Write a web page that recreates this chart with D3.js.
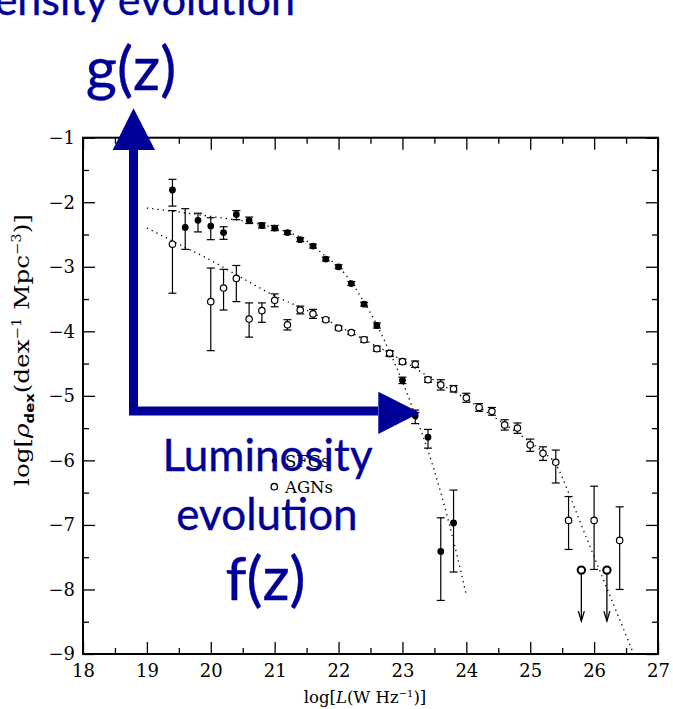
<!DOCTYPE html>
<html>
<head>
<meta charset="utf-8">
<script src="https://cdn.jsdelivr.net/npm/d3@7"></script>
<style>
body { margin: 0; background: #fff; }
svg { display: block; }
</style>
</head>
<body>
<script>
// SFGs (filled points)
var sfgX = [19.4,19.6,19.8,20.0,20.2,20.4,20.6,20.8,21.0,21.2,21.4,21.6,21.8,22.0,22.2,22.4,22.6,22.8,23.0,23.2,23.4,23.6,23.8];
var sfgY = [-1.81,-2.39,-2.28,-2.37,-2.47,-2.19,-2.28,-2.36,-2.40,-2.47,-2.58,-2.68,-2.88,-3.00,-3.26,-3.58,-3.91,-4.35,-4.76,-5.31,-5.64,-7.41,-6.97];
var sfgHi = [-1.645,-2.10,-2.17,-2.24,-2.38,-2.13,-2.23,-2.32,-2.36,-2.44,-2.55,-2.65,-2.85,-2.97,-3.23,-3.55,-3.87,-4.31,-4.71,-5.22,-5.52,-6.89,-6.46];
var sfgLo = [-2.06,-2.73,-2.46,-2.58,-2.575,-2.27,-2.33,-2.40,-2.44,-2.50,-2.61,-2.71,-2.91,-3.03,-3.29,-3.61,-3.95,-4.39,-4.81,-5.43,-5.81,-8.17,-7.73];

// AGNs (open points)
var agnX = [19.4,20.0,20.2,20.4,20.6,20.8,21.0,21.2,21.4,21.6,21.8,22.0,22.2,22.4,22.6,22.8,23.0,23.2,23.4,23.6,23.8,24.0,24.2,24.4,24.6,24.8,25.0,25.2,25.4,25.6,26.0,26.4];
var agnY = [-2.65,-3.54,-3.33,-3.18,-3.81,-3.68,-3.52,-3.90,-3.67,-3.73,-3.82,-3.95,-4.02,-4.13,-4.27,-4.34,-4.47,-4.51,-4.75,-4.83,-4.89,-5.03,-5.18,-5.24,-5.45,-5.50,-5.76,-5.89,-6.03,-6.93,-6.93,-7.24];
var agnHi = [-2.13,-3.02,-3.04,-2.98,-3.56,-3.56,-3.42,-3.82,-3.61,-3.66,-3.79,-3.92,-3.99,-4.09,-4.23,-4.30,-4.43,-4.46,-4.71,-4.75,-4.84,-4.96,-5.12,-5.18,-5.37,-5.42,-5.67,-5.79,-5.84,-6.56,-6.40,-6.72];
var agnLo = [-3.41,-4.30,-3.67,-3.54,-4.09,-3.86,-3.62,-3.98,-3.73,-3.80,-3.85,-3.98,-4.05,-4.17,-4.31,-4.38,-4.51,-4.56,-4.79,-4.91,-4.94,-5.10,-5.24,-5.30,-5.53,-5.58,-5.86,-6.00,-6.35,-7.38,-7.69,-8.00];

// AGN upper limits
var ulX = [25.8, 26.2];
var ulY = [-7.70, -7.70];
var ulEnd = [-8.49, -8.49];

// dotted fits
var sfgFitX = [19.0,19.5,20.0,20.5,21.0,21.5,21.8,22.0,22.2,22.4,22.6,22.8,23.0,23.2,23.4,23.6,23.8,24.0];
var sfgFitY = [-2.09,-2.15,-2.22,-2.29,-2.40,-2.60,-2.84,-3.00,-3.24,-3.55,-3.90,-4.32,-4.78,-5.30,-5.85,-6.50,-7.25,-8.09];
var agnFitX = [19.0,19.5,20.0,20.5,21.0,21.5,22.0,22.5,23.0,23.5,24.0,24.5,25.0,25.2,25.4,25.6,25.8,26.2,26.62];
var agnFitY = [-2.40,-2.65,-2.90,-3.18,-3.45,-3.67,-3.92,-4.18,-4.45,-4.76,-5.05,-5.37,-5.72,-5.87,-6.06,-6.50,-7.00,-7.98,-9.0];

// axis ticks
var xTicks = [18,19,20,21,22,23,24,25,26,27];
var yTicks = [-9,-8,-7,-6,-5,-4,-3,-2,-1];
var xMinor = [18.5,19.5,20.5,21.5,22.5,23.5,24.5,25.5,26.5];
var yMinor = [-8.5,-7.5,-6.5,-5.5,-4.5,-3.5,-2.5,-1.5];

var W = 673, H = 709;
var pLeft = 83, pRight = 658, pTop = 137.7, pBottom = 654;
var blue = "#000099";
var serif = "'DejaVu Serif', serif";

var svg = d3.select("body").append("svg").attr("width", W).attr("height", H);

var x = d3.scaleLinear().domain([18, 27]).range([pLeft, pRight]);
var y = d3.scaleLinear().domain([-9, -1]).range([pBottom, pTop]);

//Eixos: ticks para dentro nos quatro lados
function drawAxes()
{
    let majorLen = 12, minorLen = 6;

    svg.append("g").attr("transform", "translate(0," + pBottom + ")")
        .call(d3.axisBottom(x).tickValues(xTicks).tickSize(-majorLen).tickPadding(10).tickFormat(d3.format("d")));
    svg.append("g").attr("transform", "translate(0," + pBottom + ")")
        .call(d3.axisBottom(x).tickValues(xMinor).tickSize(-minorLen).tickFormat(""));
    svg.append("g").attr("transform", "translate(0," + pTop + ")")
        .call(d3.axisTop(x).tickValues(xTicks).tickSize(-majorLen).tickFormat(""));
    svg.append("g").attr("transform", "translate(0," + pTop + ")")
        .call(d3.axisTop(x).tickValues(xMinor).tickSize(-minorLen).tickFormat(""));

    svg.append("g").attr("transform", "translate(" + pLeft + ",0)")
        .call(d3.axisLeft(y).tickValues(yTicks).tickSize(-majorLen).tickPadding(8).tickFormat(d => "\u2212" + Math.abs(d)));
    svg.append("g").attr("transform", "translate(" + pLeft + ",0)")
        .call(d3.axisLeft(y).tickValues(yMinor).tickSize(-minorLen).tickFormat(""));
    svg.append("g").attr("transform", "translate(" + pRight + ",0)")
        .call(d3.axisRight(y).tickValues(yTicks).tickSize(-majorLen).tickFormat(""));
    svg.append("g").attr("transform", "translate(" + pRight + ",0)")
        .call(d3.axisRight(y).tickValues(yMinor).tickSize(-minorLen).tickFormat(""));

    svg.selectAll(".domain").remove();
    svg.selectAll(".tick line").attr("stroke", "#000").attr("stroke-width", 1.3);
    svg.selectAll(".tick text").attr("fill", "#000").style("font-family", serif).style("font-size", "18px");

    svg.append("rect").attr("x", pLeft).attr("y", pTop).attr("width", pRight - pLeft).attr("height", pBottom - pTop)
        .attr("fill", "none").attr("stroke", "#000").attr("stroke-width", 2);

    // titulo do eixo x
    let tx = svg.append("text").attr("x", 365).attr("y", 703).attr("text-anchor", "middle")
        .style("font-family", serif).style("font-size", "16.5px");
    tx.append("tspan").text("log[");
    tx.append("tspan").style("font-style", "italic").text("L");
    tx.append("tspan").text("(W Hz");
    tx.append("tspan").attr("dy", -6).style("font-size", "10px").text("\u22121");
    tx.append("tspan").attr("dy", 6).text(")]");

    // titulo do eixo y
    let ty = svg.append("text").attr("transform", "translate(29,350) rotate(-90)").attr("text-anchor", "middle")
        .attr("textLength", 272).attr("lengthAdjust", "spacingAndGlyphs")
        .style("font-family", serif).style("font-size", "20px");
    ty.append("tspan").text("log[");
    ty.append("tspan").style("font-style", "italic").text("\u03c1");
    ty.append("tspan").attr("dy", 5).style("font-size", "12px").style("font-family", "'DejaVu Sans', sans-serif").style("font-weight", "bold").text("dex");
    ty.append("tspan").attr("dy", -5).text("(dex");
    ty.append("tspan").attr("dy", -8).style("font-size", "12px").text("\u22121");
    ty.append("tspan").attr("dy", 8).text(" Mpc");
    ty.append("tspan").attr("dy", -8).style("font-size", "12px").text("\u22123");
    ty.append("tspan").attr("dy", 8).text(")]");
}

//Curvas pontilhadas
function drawFits()
{
    let line = d3.line().x(d => x(d[0])).y(d => y(d[1])).curve(d3.curveMonotoneX);
    [[sfgFitX, sfgFitY], [agnFitX, agnFitY]].forEach(function(s)
    {
        svg.append("path").datum(d3.zip(s[0], s[1])).attr("d", line)
            .attr("fill", "none").attr("stroke", "#000").attr("stroke-width", 1.3)
            .attr("stroke-dasharray", "1.3,4");
    });
}

//Pontos com barras de erro
function drawPoints(xs, ys, his, los, filled)
{
    let data = xs.map((v, i) => ({x: v, y: ys[i], hi: his[i], lo: los[i]}));
    let g = svg.append("g").attr("stroke", "#000").attr("stroke-width", 1.2);
    let cap = 4;

    g.selectAll("line.bar").data(data).join("line").attr("class", "bar")
        .attr("x1", d => x(d.x)).attr("x2", d => x(d.x)).attr("y1", d => y(d.hi)).attr("y2", d => y(d.lo));
    g.selectAll("line.top").data(data).join("line").attr("class", "top")
        .attr("x1", d => x(d.x) - cap).attr("x2", d => x(d.x) + cap).attr("y1", d => y(d.hi)).attr("y2", d => y(d.hi));
    g.selectAll("line.bot").data(data).join("line").attr("class", "bot")
        .attr("x1", d => x(d.x) - cap).attr("x2", d => x(d.x) + cap).attr("y1", d => y(d.lo)).attr("y2", d => y(d.lo));
    g.selectAll("circle").data(data).join("circle")
        .attr("cx", d => x(d.x)).attr("cy", d => y(d.y))
        .attr("r", filled ? 2.8 : 3.2)
        .attr("fill", filled ? "#000" : "#fff");
}

//Limites superiores
function drawLimits()
{
    let data = ulX.map((v, i) => ({x: v, y: ulY[i], e: ulEnd[i]}));
    let g = svg.append("g").attr("stroke", "#000").attr("fill", "none");
    g.selectAll("line").data(data).join("line").attr("stroke-width", 1.3)
        .attr("x1", d => x(d.x)).attr("x2", d => x(d.x)).attr("y1", d => y(d.y)).attr("y2", d => y(d.e));
    g.selectAll("path").data(data).join("path").attr("stroke-width", 1.3)
        .attr("d", d => "M" + (x(d.x) - 3) + "," + (y(d.e) - 10) + "L" + x(d.x) + "," + y(d.e) + "L" + (x(d.x) + 3) + "," + (y(d.e) - 10));
    g.selectAll("circle").data(data).join("circle").attr("stroke-width", 2)
        .attr("cx", d => x(d.x)).attr("cy", d => y(d.y)).attr("r", 3.7).attr("fill", "#fff");
}

//Legenda
function drawLegend()
{
    let g = svg.append("g").style("font-family", serif).style("font-size", "16.5px");
    g.append("circle").attr("cx", 274.3).attr("cy", 460.7).attr("r", 2.6).attr("fill", "#000");
    g.append("text").attr("x", 285).attr("y", 466.7).text("SFGs");
    g.append("circle").attr("cx", 274.3).attr("cy", 486.7).attr("r", 3.2).attr("fill", "#fff").attr("stroke", "#000").attr("stroke-width", 1.3);
    g.append("text").attr("x", 285).attr("y", 493).text("AGNs");
}

//Anotacoes azuis por cima
function drawOverlay()
{
    svg.append("path").attr("d", "M133.5,150V411H378").attr("fill", "none")
        .attr("stroke", blue).attr("stroke-width", 9).attr("stroke-linejoin", "miter");
    svg.append("path").attr("d", "M112.7,150L155,150L133.5,108.3Z").attr("fill", blue);
    svg.append("path").attr("d", "M378.3,391.7L378.3,434L420,412.7Z").attr("fill", blue);

    let f = "Lato, sans-serif";
    let labels = [
        {t: "Density evolution", x: 295, y: 15, s: 43, a: "end"},
        {t: "g(z)", x: 131, y: 90, s: 60, a: "middle"},
        {t: "Luminosity", x: 267.5, y: 471, s: 44, a: "middle"},
        {t: "evolution", x: 267, y: 530, s: 44, a: "middle"},
        {t: "f(z)", x: 265.5, y: 600, s: 60, a: "middle"}
    ];
    svg.selectAll("text.note").data(labels).join("text").attr("class", "note")
        .attr("x", d => d.x).attr("y", d => d.y).attr("text-anchor", d => d.a)
        .attr("fill", blue).attr("stroke", blue).attr("stroke-width", 0.35)
        .style("font-family", f).style("font-size", d => d.s + "px").text(d => d.t);
}

drawAxes()
drawFits()
drawPoints(sfgX, sfgY, sfgHi, sfgLo, true)
drawPoints(agnX, agnY, agnHi, agnLo, false)
drawLimits()
drawLegend()
drawOverlay()
</script>
</body>
</html>
